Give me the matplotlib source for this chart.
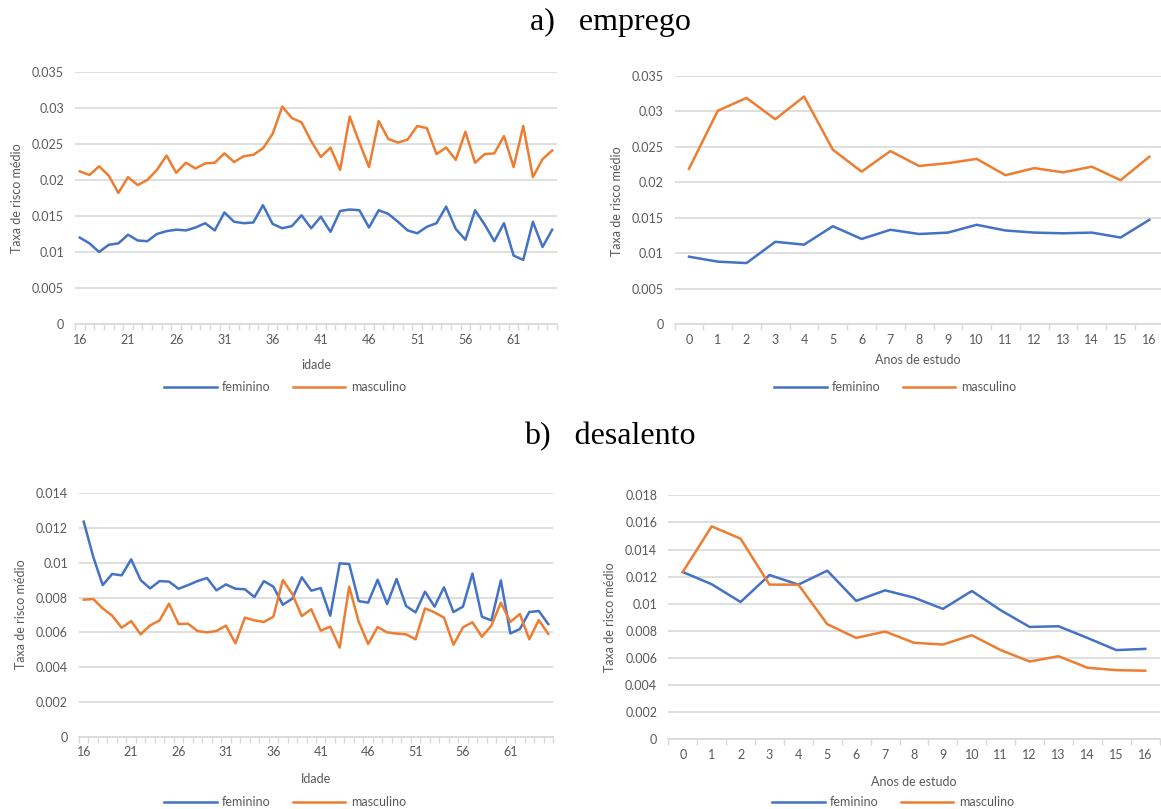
import numpy as np
import matplotlib
matplotlib.use("Agg")
import matplotlib.pyplot as plt
from matplotlib.ticker import FixedLocator, FuncFormatter

# ---- data -------------------------------------------------------------
idade = list(range(16, 66))
anos_estudo = list(range(0, 17))

emprego_idade_fem = [
    0.0120, 0.0112, 0.0100, 0.0110, 0.0112, 0.0124, 0.0116, 0.0115, 0.0125, 0.0129,
    0.0131, 0.0130, 0.0134, 0.0140, 0.0130, 0.0155, 0.0142, 0.0140, 0.0141, 0.0165,
    0.0139, 0.0133, 0.0136, 0.0151, 0.0133, 0.0149, 0.0128, 0.0157, 0.0159, 0.0158,
    0.0134, 0.0158, 0.0153, 0.0142, 0.0130, 0.0126, 0.0135, 0.0140, 0.0163, 0.0132,
    0.0117, 0.0158, 0.0138, 0.0115, 0.0140, 0.0095, 0.0089, 0.0142, 0.0107, 0.0131,
]
emprego_idade_masc = [
    0.0212, 0.0207, 0.0219, 0.0206, 0.0182, 0.0204, 0.0193, 0.0200, 0.0214, 0.0234,
    0.0210, 0.0224, 0.0216, 0.0223, 0.0224, 0.0237, 0.0225, 0.0233, 0.0235, 0.0244,
    0.0264, 0.0302, 0.0286, 0.0280, 0.0254, 0.0232, 0.0245, 0.0214, 0.0288, 0.0252,
    0.0218, 0.0282, 0.0257, 0.0252, 0.0256, 0.0275, 0.0272, 0.0236, 0.0245, 0.0228,
    0.0267, 0.0224, 0.0236, 0.0237, 0.0261, 0.0218, 0.0275, 0.0204, 0.0229, 0.0241,
]
emprego_estudo_fem = [
    0.0095, 0.0088, 0.0086, 0.0116, 0.0112, 0.0138, 0.0120, 0.0133, 0.0127,
    0.0129, 0.0140, 0.0132, 0.0129, 0.0128, 0.0129, 0.0122, 0.0147,
]
emprego_estudo_masc = [
    0.0219, 0.0301, 0.0319, 0.0289, 0.0321, 0.0246, 0.0215, 0.0244, 0.0223,
    0.0227, 0.0233, 0.0210, 0.0220, 0.0214, 0.0222, 0.0203, 0.0236,
]

desalento_idade_fem = [
    0.01237, 0.01035, 0.00872, 0.00936, 0.00928, 0.01020, 0.00901, 0.00853, 0.00895, 0.00892,
    0.00851, 0.00872, 0.00895, 0.00913, 0.00842, 0.00876, 0.00851, 0.00848, 0.00803, 0.00895,
    0.00863, 0.00759, 0.00794, 0.00917, 0.00840, 0.00855, 0.00696, 0.00997, 0.00993, 0.00780,
    0.00771, 0.00903, 0.00763, 0.00907, 0.00752, 0.00715, 0.00834, 0.00748, 0.00859, 0.00717,
    0.00748, 0.00938, 0.00690, 0.00669, 0.00899, 0.00594, 0.00619, 0.00717, 0.00723, 0.00648,
]
desalento_idade_masc = [
    0.00788, 0.00792, 0.00738, 0.00696, 0.00627, 0.00665, 0.00589, 0.00640, 0.00669, 0.00765,
    0.00648, 0.00650, 0.00608, 0.00600, 0.00608, 0.00639, 0.00537, 0.00685, 0.00669, 0.00660,
    0.00690, 0.00901, 0.00821, 0.00694, 0.00733, 0.00610, 0.00633, 0.00512, 0.00863, 0.00662,
    0.00533, 0.00631, 0.00600, 0.00593, 0.00589, 0.00560, 0.00738, 0.00715, 0.00685, 0.00529,
    0.00629, 0.00658, 0.00575, 0.00639, 0.00771, 0.00660, 0.00706, 0.00560, 0.00671, 0.00591,
]
desalento_estudo_fem = [
    0.01234, 0.01144, 0.01013, 0.01212, 0.01141, 0.01244, 0.01021, 0.01099, 0.01045,
    0.00962, 0.01094, 0.00952, 0.00829, 0.00834, 0.00748, 0.00658, 0.00667,
]
desalento_estudo_masc = [
    0.01234, 0.01571, 0.01480, 0.01141, 0.01141, 0.00849, 0.00748, 0.00795, 0.00712,
    0.00699, 0.00768, 0.00658, 0.00574, 0.00613, 0.00528, 0.00510, 0.00506,
]

titulos = ["a)   emprego", "b)   desalento"]
rotulo_y = "Taxa de risco médio"
series_nomes = ["feminino", "masculino"]

# ---- style ------------------------------------------------------------
AZUL = "#4472C4"
LARANJA = "#ED7D31"
GRADE = "#D9D9D9"
TEXTO = "#595959"
plt.rcParams["font.family"] = ["Lato", "DejaVu Sans"]

W, H = 1161, 809
fig = plt.figure(figsize=(W / 100, H / 100), dpi=100)


def px_axes(left, top, right, bottom):
    return fig.add_axes([left / W, 1 - bottom / H, (right - left) / W, (bottom - top) / H])


def fmt_num(v, _pos=None):
    if abs(v) < 1e-12:
        return "0"
    return f"{v:.3f}".rstrip("0")


def style_axes(ax, ymax, ystep, xcats, label_ticks, xlabel, xlab_px, ylab_px, leg_px):
    ax.set_ylim(0, ymax)
    ax.set_yticks(np.arange(0, ymax + ystep / 2, ystep))
    ax.yaxis.set_major_formatter(FuncFormatter(fmt_num))
    ax.set_xlim(xcats[0] - 0.5, xcats[-1] + 0.5)
    ax.set_xticks(label_ticks)
    ax.xaxis.set_minor_locator(FixedLocator(np.arange(xcats[0] - 0.5, xcats[-1] + 1.0, 1.0)))
    ax.tick_params(axis="x", which="major", length=0, labelsize=9, colors=TEXTO, pad=7)
    ax.tick_params(axis="x", which="minor", length=4, width=1, color=GRADE)
    ax.tick_params(axis="y", length=0, labelsize=9, colors=TEXTO, pad=8)
    ax.grid(axis="y", color=GRADE, linewidth=1.2)
    ax.set_axisbelow(True)
    for side in ("top", "right", "left"):
        ax.spines[side].set_visible(False)
    ax.spines["bottom"].set_color(GRADE)
    ax.spines["bottom"].set_linewidth(1.2)
    ax.set_ylabel(rotulo_y, fontsize=9, color=TEXTO)
    ax.yaxis.set_label_coords(ylab_px[0] / W, 1 - ylab_px[1] / H, transform=fig.transFigure)
    ax.set_xlabel(xlabel, fontsize=9, color=TEXTO)
    ax.xaxis.set_label_coords(xlab_px[0] / W, 1 - xlab_px[1] / H, transform=fig.transFigure)
    ax.xaxis.label.set_verticalalignment("center")
    ax.yaxis.label.set_verticalalignment("center")
    leg = ax.legend(loc="center", bbox_to_anchor=(leg_px[0] / W, 1 - leg_px[1] / H),
                    bbox_transform=fig.transFigure, ncol=2, frameon=False,
                    handlelength=4.2, handletextpad=0.45, columnspacing=1.75,
                    fontsize=9, borderpad=0, borderaxespad=0)
    for t in leg.get_texts():
        t.set_color(TEXTO)


def draw(ax, x, fem, masc):
    ax.plot(x, fem, color=AZUL, linewidth=1.8, label=series_nomes[0], solid_joinstyle="round")
    ax.plot(x, masc, color=LARANJA, linewidth=1.8, label=series_nomes[1], solid_joinstyle="round")


# a) emprego, por idade
ax1 = px_axes(75, 72, 557, 324)
draw(ax1, idade, emprego_idade_fem, emprego_idade_masc)
style_axes(ax1, 0.035, 0.005, idade, list(range(16, 66, 5)), "idade",
           (316, 365), (17, 198), (285, 387))

# a) emprego, por anos de estudo
ax2 = px_axes(674.6, 76, 1163.7, 324)
draw(ax2, anos_estudo, emprego_estudo_fem, emprego_estudo_masc)
style_axes(ax2, 0.035, 0.005, anos_estudo, anos_estudo, "Anos de estudo",
           (918, 360), (617, 201), (895, 387))

# b) desalento, por idade
ax3 = px_axes(79, 493.3, 553, 736.7)
draw(ax3, idade, desalento_idade_fem, desalento_idade_masc)
style_axes(ax3, 0.014, 0.002, idade, list(range(16, 66, 5)), "Idade",
           (316, 779), (21, 614), (285, 802))

# b) desalento, por anos de estudo
ax4 = px_axes(668.3, 495.3, 1159.7, 739.3)
draw(ax4, anos_estudo, desalento_estudo_fem, desalento_estudo_masc)
style_axes(ax4, 0.018, 0.002, anos_estudo, anos_estudo, "Anos de estudo",
           (914, 782), (610, 617), (893, 802))

# section headings
fig.text(610 / W, 1 - 22 / H, titulos[0], ha="center", va="center",
         fontsize=23, family="Liberation Serif", color="black")
fig.text(610 / W, 1 - 437 / H, titulos[1], ha="center", va="center",
         fontsize=23, family="Liberation Serif", color="black")

fig.savefig("out.png", dpi=100, facecolor="white")
